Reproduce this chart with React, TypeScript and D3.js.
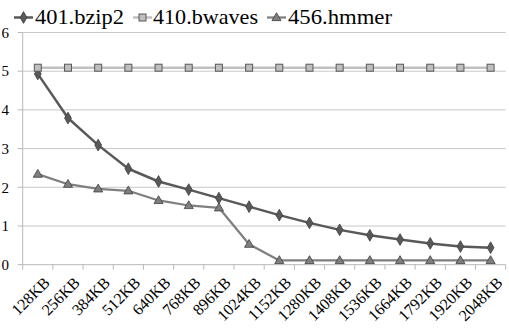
import React from "react";
import * as d3 from "d3";

const categories = ["128KB","256KB","384KB","512KB","640KB","768KB","896KB","1024KB","1152KB","1280KB","1408KB","1536KB","1664KB","1792KB","1920KB","2048KB"];
const bzip2 = [4.93, 3.79, 3.09, 2.48, 2.15, 1.94, 1.72, 1.5, 1.28, 1.08, 0.9, 0.76, 0.65, 0.55, 0.47, 0.44];
const bwaves = [5.09, 5.09, 5.09, 5.09, 5.09, 5.09, 5.09, 5.09, 5.09, 5.09, 5.09, 5.09, 5.09, 5.09, 5.09, 5.09];
const hmmer = [2.34, 2.08, 1.96, 1.91, 1.66, 1.53, 1.47, 0.53, 0.11, 0.11, 0.11, 0.11, 0.11, 0.11, 0.11, 0.11];
const yTicks = [0, 1, 2, 3, 4, 5, 6];
const seriesNames = ["401.bzip2", "410.bwaves", "456.hmmer"];

function Marker({ kind, x, y }: { kind: string; x: number; y: number }) {
  if (kind === "diamond") {
    const s = d3.symbol(d3.symbolDiamond, 40)()!;
    return <path d={s} transform={`translate(${x},${y})`} fill="#595959" stroke="#3f3f3f" strokeWidth={0.8} />;
  }
  if (kind === "square") {
    return <rect x={x - 3.5} y={y - 3.5} width={7} height={7} fill="#bfbfbf" stroke="#595959" strokeWidth={1} />;
  }
  const s = d3.symbol(d3.symbolTriangle, 36)()!;
  return <path d={s} transform={`translate(${x},${y + 0.5})`} fill="#7f7f7f" stroke="#3f3f3f" strokeWidth={0.8} />;
}

export default function App() {
  const W = 509, H = 332;
  const left = 22.7, right = 505.7, top = 32.5, bottom = 264.7;
  const x = d3.scaleBand<string>().domain(categories).range([left, right]);
  const y = d3.scaleLinear().domain([0, 6]).range([bottom, top]);
  const cx = (c: string) => (x(c) as number) + x.bandwidth() / 2;
  const line = d3.line<number>().x((_, i) => cx(categories[i])).y((d) => y(d));

  const series = [
    { name: seriesNames[0], data: bzip2, color: "#595959", kind: "diamond", width: 2.5 },
    { name: seriesNames[1], data: bwaves, color: "#c0c0c0", kind: "square", width: 2.5 },
    { name: seriesNames[2], data: hmmer, color: "#7f7f7f", kind: "triangle", width: 2.25 },
  ];
  const legend = [
    { lx: 14, tx: 35, tw: 89 },
    { lx: 133, tx: 153, tw: 105 },
    { lx: 267, tx: 288, tw: 104 },
  ];
  const ticksX = [...categories.map((c) => x(c) as number), right];

  return (
    <svg width={W} height={H} style={{ position: "absolute", left: 0, top: 0, background: "#fff" }}>
      <g fontFamily="Liberation Serif">
        {yTicks.map((t) => (
          <g key={"gy" + t}>
            {t > 0 && <line x1={left} x2={right} y1={y(t)} y2={y(t)} stroke="#c8c8c8" strokeWidth={1} />}
            <line x1={left - 5} x2={left} y1={y(t)} y2={y(t)} stroke="#b8b8b8" strokeWidth={1} />
          </g>
        ))}
        {yTicks.map((t) => (
          <text key={"ty" + t} x={9} y={y(t)} dy="0.35em" textAnchor="end" fontSize={15} fill="#000" fontFamily="Liberation Serif">{t}</text>
        ))}
        <line x1={left} x2={left} y1={top} y2={bottom} stroke="#b8b8b8" strokeWidth={1} />
        <line x1={left} x2={right} y1={bottom} y2={bottom} stroke="#b8b8b8" strokeWidth={1} />
        {ticksX.map((tx, i) => (
          <line key={"tk" + i} x1={tx} x2={tx} y1={bottom} y2={bottom + 5} stroke="#b8b8b8" strokeWidth={1} />
        ))}
        {categories.map((c) => (
          <text key={"tx" + c} transform={`translate(${cx(c) + 5},${bottom + 11}) rotate(-45)`} textAnchor="end" dy="0.7em" fontSize={16} fill="#000" fontFamily="Liberation Serif">{c}</text>
        ))}
        {series.map((s) => (
          <g key={"s" + s.name}>
            <path d={line(s.data)!} fill="none" stroke={s.color} strokeWidth={s.width} strokeLinejoin="round" />
            {s.data.map((v, i) => (
              <Marker key={i} kind={s.kind} x={cx(categories[i])} y={y(v)} />
            ))}
          </g>
        ))}
        {series.map((s, i) => (
          <g key={"lg" + s.name}>
            <line x1={legend[i].lx} x2={legend[i].lx + 19} y1={17.5} y2={17.5} stroke={s.color} strokeWidth={s.width} />
            <Marker kind={s.kind} x={legend[i].lx + 9.5} y={17.5} />
            <text x={legend[i].tx} y={24} fontSize={21} textLength={legend[i].tw} lengthAdjust="spacingAndGlyphs" fill="#000" fontFamily="Liberation Serif">{s.name}</text>
          </g>
        ))}
      </g>
    </svg>
  );
}
